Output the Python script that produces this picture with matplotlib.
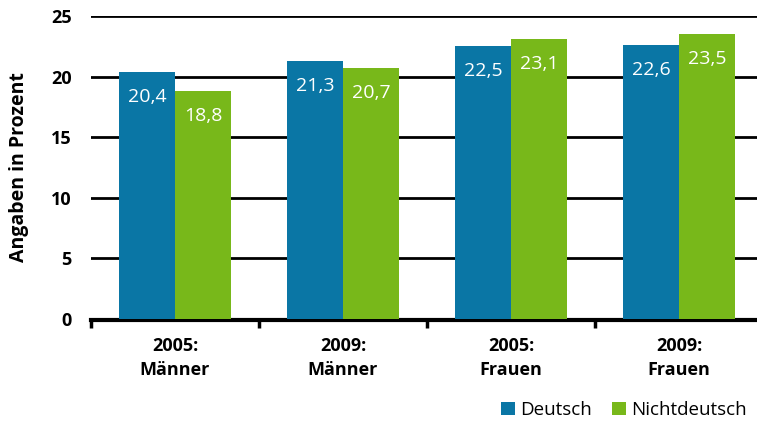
import matplotlib.pyplot as plt
import numpy as np

# --- Daten --- #
gruppen = ["2005:\nMänner", "2009:\nMänner", "2005:\nFrauen", "2009:\nFrauen"]
deutsch = [20.4, 21.3, 22.5, 22.6]
nichtdeutsch = [18.8, 20.7, 23.1, 23.5]

blau = "#0a76a5"
gruen = "#78b81a"

plt.rcParams['font.family'] = ['Open Sans', 'DejaVu Sans']

fig = plt.figure(figsize=(7.57, 4.23), dpi=100)
ax = fig.add_axes([91/757, 1 - 319/423, 672/757, 303/423])

x = np.arange(len(gruppen))
b = 1/3
bars1 = ax.bar(x - b/2, deutsch, b, color=blau, label="Deutsch", zorder=3)
bars2 = ax.bar(x + b/2, nichtdeutsch, b, color=gruen, label="Nichtdeutsch", zorder=3)

# Werte in die Balken schreiben
for bars in (bars1, bars2):
    for r in bars:
        v = r.get_height()
        ax.annotate(f"{v:.1f}".replace(".", ","), (r.get_x() + r.get_width()/2, v),
                    xytext=(0, -25), textcoords="offset pixels",
                    ha="center", va="center", color="white", fontsize=14, zorder=4)

ax.set_ylim(0, 25)
ax.set_xlim(-0.5, 3.5)
ax.set_yticks([0, 5, 10, 15, 20, 25])
ax.yaxis.grid(True, color="black", linewidth=2, zorder=0)
ax.tick_params(axis="y", length=0, pad=14, labelsize=13)

# Gruppen-Beschriftung + Trennstriche zwischen den Gruppen
ax.set_xticks(np.arange(-0.5, 4, 1))
ax.set_xticklabels([])
ax.tick_params(axis="x", length=6, width=2.5, direction="out")
for i, g in enumerate(gruppen):
    ax.text(i, -1.45, g, ha="center", va="top", fontsize=13, fontweight="bold",
            linespacing=1.45)

for t in ax.get_yticklabels():
    t.set_fontweight("bold")

for s in ("left", "right", "top"):
    ax.spines[s].set_visible(False)
ax.spines["bottom"].set_linewidth(3)
ax.spines["bottom"].set_position(("outward", 1))

ax.set_ylabel("Angaben in Prozent", fontweight="bold", fontsize=14, labelpad=16)

fig.legend(handles=[bars1, bars2], loc="lower right", bbox_to_anchor=(1.0, -0.015),
           ncol=2, frameon=False, fontsize=13.5, handlelength=0.75, handleheight=0.75,
           handletextpad=0.25, columnspacing=1.1, borderaxespad=0.15)

fig.savefig("out.png", dpi=100)
